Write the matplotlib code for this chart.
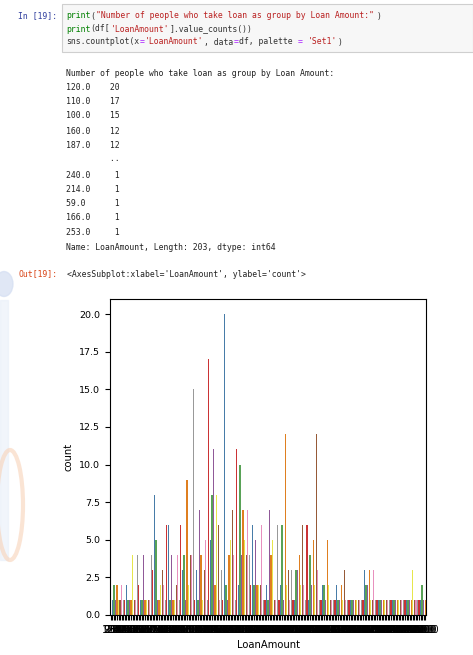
import matplotlib
matplotlib.use("Agg")
import matplotlib.pyplot as plt
from matplotlib.patches import Rectangle, Circle, Ellipse
import seaborn as sns

W, H = 473, 655

# Sorted unique LoanAmount values (203 categories)
loan_amounts = [
    9, 17, 25, 26, 28, 30, 35, 36, 40, 42, 44, 45, 46, 47, 48, 50, 53, 55, 56, 58,
    59, 60, 61, 62, 63, 65, 66, 67, 70, 71, 72, 73, 74, 75, 76, 78, 80, 81, 83, 84,
    85, 86, 87, 88, 89, 90, 93, 94, 95, 96, 97, 98, 99,
    100, 101, 102, 103, 104, 105, 106, 107, 108, 109, 110, 111, 112, 113, 114, 115,
    116, 117, 118, 119, 120,
    121, 122, 123, 124, 125, 126, 127, 128, 129, 130, 131, 132, 133, 134, 135, 136,
    137, 138, 139, 140, 141, 142, 143, 144, 145, 146, 147, 148, 149, 150, 151, 152,
    153, 154, 155, 156, 158, 159, 160,
    162, 165, 166, 167, 168, 170, 171, 172, 173, 175, 176, 177, 178, 180, 181, 182,
    184, 185, 186, 187,
    188, 190, 191, 192, 194, 196, 197, 200, 201, 205, 208, 209, 210, 211, 213, 214,
    216, 218, 225, 230, 232, 236, 239, 240, 242, 244, 247, 250, 253, 254, 255, 258,
    259, 260, 262, 265, 267, 275, 279, 280, 286, 292, 296, 300, 304, 308, 311, 312,
    315, 319, 320, 324, 349, 360, 370, 380, 385, 390, 400, 405, 436, 480, 490, 495,
    496, 500, 570, 600, 650, 700,
]

# Number of applicants for each amount, in the same order
counts = [
    1, 1, 2, 1, 2, 1, 1, 2, 1, 1, 2, 1, 1, 1, 4, 1, 1, 4, 2, 1,
    1, 4, 1, 1, 1, 1, 4, 3, 8, 5,
    1, 1, 2, 3, 2, 1, 6, 6, 1, 4,
    1, 1, 2, 4, 1, 6, 3, 4, 1, 9,
    2, 4, 4, 15, 1, 3, 1, 7, 4, 1,
    3, 5, 1, 17, 5, 8, 11, 2, 8, 6,
    1, 3, 1, 20, 2, 1, 4, 5, 7, 4,
    1, 11, 2, 10, 4, 7, 5, 4, 7, 4,
    2, 6, 2, 5, 2, 2, 2, 6, 1, 1,
    2, 1, 7, 4, 5, 1, 1, 6, 1, 2,
    6, 1, 12, 2, 3, 1, 3, 1, 1, 3,
    3, 4, 2, 6, 2, 1, 6, 1, 4, 2,
    5, 2, 12, 3, 1, 1, 2, 2, 1, 5,
    2, 1, 1, 1, 1, 2, 1, 1, 2, 1,
    3, 1, 1, 1, 1, 1, 1, 1, 1, 1,
    1, 1, 1, 3, 2, 2, 3, 1, 1, 3,
    1, 1, 1, 1, 1, 1, 1, 1, 1, 1,
    1, 1, 1, 1, 1, 1, 1, 1, 1, 1,
    1, 1, 1, 1, 3, 1, 1, 1, 1, 1,
    2, 1, 1,
]

tick_labels = [f"{v:.1f}" for v in loan_amounts]

code_lines = [
    [("print", "#008000"), ("(", "#333333"),
     ('"Number of people who take loan as group by Loan Amount:"', "#BA2121"),
     (")", "#333333")],
    [("print", "#008000"), ("(df[", "#333333"), ("'LoanAmount'", "#BA2121"),
     ("].value_counts())", "#333333")],
    [("sns.countplot(x", "#333333"), ("=", "#AA22FF"), ("'LoanAmount'", "#BA2121"),
     (", data", "#333333"), ("=", "#AA22FF"), ("df, palette ", "#333333"),
     ("=", "#AA22FF"), (" ", "#333333"), ("'Set1'", "#BA2121"), (")", "#333333")],
]

output_lines = [
    "Number of people who take loan as group by Loan Amount:",
    "120.0    20",
    "110.0    17",
    "100.0    15",
    "160.0    12",
    "187.0    12",
    "         ..",
    "240.0     1",
    "214.0     1",
    "59.0      1",
    "166.0     1",
    "253.0     1",
    "Name: LoanAmount, Length: 203, dtype: int64",
]
output_y = [74, 88, 102, 116, 131, 145, 158, 176, 190, 204, 218, 232, 247]

fig = plt.figure(figsize=(W / 100, H / 100), dpi=100)
fig.patch.set_facecolor("white")


def fx(x):
    return x / W


def fy(y):
    return 1 - y / H


MONO = "DejaVu Sans Mono"
FS = 5.9
CHAR_W = FS * 100 / 72 * 0.602

# faint background shapes on the left edge
fig.patches.append(Circle((fx(4), fy(284)), 9 / W, transform=fig.transFigure,
                          color="#d4def2", alpha=0.7, zorder=0))
fig.patches.append(Rectangle((0, fy(560)), 8 / W, 260 / H, transform=fig.transFigure,
                             color="#e8eff9", alpha=0.6, zorder=0))
fig.patches.append(Ellipse((fx(10), fy(505)), 26 / W, 110 / H, transform=fig.transFigure,
                           facecolor="none", edgecolor="#f8d2b8", lw=3, alpha=0.6, zorder=0))

# code cell
fig.patches.append(Rectangle((fx(62), fy(52)), (W - 62) / W, 48 / H,
                             transform=fig.transFigure, facecolor="#f7f7f7",
                             edgecolor="#cfcfcf", lw=0.8, zorder=0))
fig.text(fx(18), fy(16), "In [19]:", family=MONO, fontsize=FS, color="#303F9F",
         va="center", ha="left")
for row, y in zip(code_lines, [16, 29, 42]):
    col = 0
    for txt, c in row:
        fig.text(fx(66 + col * CHAR_W), fy(y), txt, family=MONO, fontsize=FS,
                 color=c, va="center", ha="left")
        col += len(txt)

for line, y in zip(output_lines, output_y):
    fig.text(fx(66), fy(y), line, family=MONO, fontsize=FS, color="#222222",
             va="center", ha="left")

fig.text(fx(18), fy(274), "Out[19]:", family=MONO, fontsize=FS, color="#D84315",
         va="center", ha="left")
fig.text(fx(67), fy(274), "<AxesSubplot:xlabel='LoanAmount', ylabel='count'>",
         family=MONO, fontsize=FS, color="#222222", va="center", ha="left")

# count plot
ax = fig.add_axes([fx(110), fy(615), (426 - 110) / W, (615 - 299) / H])
palette = [sns.desaturate(c, 0.75) for c in sns.color_palette("Set1", 9)]
colors = [palette[i % 9] for i in range(len(counts))]
positions = list(range(len(counts)))
ax.bar(positions, counts, width=0.8, color=colors, linewidth=0)
ax.set_xlim(-0.5, len(counts) - 0.5)
ax.set_ylim(0, 21)
ax.set_xticks(positions)
ax.set_xticklabels(tick_labels, fontsize=7.0)
ax.set_yticks([0, 2.5, 5, 7.5, 10, 12.5, 15, 17.5, 20])
ax.set_yticklabels(["0.0", "2.5", "5.0", "7.5", "10.0", "12.5", "15.0", "17.5", "20.0"],
                   fontsize=6.8)
ax.set_xlabel("LoanAmount", fontsize=7.2)
ax.set_ylabel("count", fontsize=7.2)
for s in ax.spines.values():
    s.set_linewidth(0.8)

fig.savefig("out.png", dpi=100)
